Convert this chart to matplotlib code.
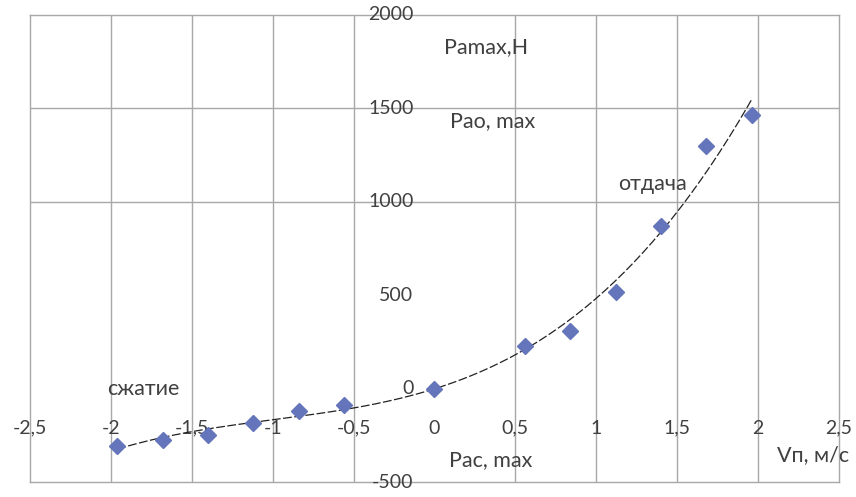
import numpy as np
import matplotlib
matplotlib.use("Agg")
import matplotlib.pyplot as plt

plt.rcParams['font.family'] = ['Lato', 'DejaVu Sans']

# скорость поршня, м/с и усилие, Н
v = [-1.96, -1.68, -1.40, -1.12, -0.84, -0.56, 0.0,
     0.56, 0.84, 1.12, 1.40, 1.68, 1.96]
p = [-307, -275, -248, -184, -120, -88, 0,
     228, 308, 517, 869, 1298, 1464]

x_ticks = [-2.5, -2, -1.5, -1, -0.5, 0, 0.5, 1, 1.5, 2, 2.5]
x_labels = ['-2,5', '-2', '-1,5', '-1', '-0,5', '0', '0,5', '1', '1,5', '2', '2,5']
y_ticks = [-500, 0, 500, 1000, 1500, 2000]
y_labels = ['-500', '0', '500', '1000', '1500', '2000']

grid_c = '#a8a8a8'
txt_c = '#404040'
fs_tick = 14
fs_note = 15.5

fig = plt.figure(figsize=(8.56, 4.97), dpi=100)
ax = fig.add_axes([30 / 856, 15 / 497, 809 / 856, 467 / 497])
ax.set_xlim(-2.5, 2.5)
ax.set_ylim(-500, 2000)
ax.set_xticks([])
ax.set_yticks([])
for s in ax.spines.values():
    s.set_color(grid_c)
    s.set_linewidth(1.0)

# сетка: вертикальные линии по всем делениям кроме оси, горизонтальные сверху
for xt in x_ticks[1:-1]:
    if xt != 0:
        ax.axvline(xt, color=grid_c, lw=1.0, zorder=1)
for yt in [1000, 1500]:
    ax.axhline(yt, color=grid_c, lw=1.0, zorder=1)

# подписи делений
for xt, lab in zip(x_ticks, x_labels):
    ax.text(xt, -211, lab, ha='center', va='center', fontsize=fs_tick, color=txt_c)
for yt, lab in zip(y_ticks, y_labels):
    ax.text(-0.13, yt, lab, ha='right', va='center', fontsize=fs_tick, color=txt_c)

# линия тренда (полином 3-й степени)
coef = np.polyfit(v, p, 3)
xs = np.linspace(min(v), max(v), 200)
ax.plot(xs, np.polyval(coef, xs), color='#222222', lw=0.9,
        linestyle=(0, (7, 2)), zorder=3)

ax.plot(v, p, linestyle='none', marker='D', markersize=8,
        color='#6475bb', zorder=4)

ax.text(0.32, 1830, 'Pamax,H', ha='center', va='center', fontsize=fs_note, color=txt_c)
ax.text(0.36, 1430, 'Pao, max', ha='center', va='center', fontsize=fs_note, color=txt_c)
ax.text(1.35, 1095, 'отдача', ha='center', va='center', fontsize=fs_note, color=txt_c)
ax.text(-1.80, 0, 'сжатие', ha='center', va='center', fontsize=fs_note, color=txt_c)
ax.text(0.35, -385, 'Pac, max', ha='center', va='center', fontsize=fs_note, color=txt_c)
ax.text(2.34, -355, 'Vп, м/с', ha='center', va='center', fontsize=fs_note, color=txt_c)

fig.savefig('out.png', dpi=100)
